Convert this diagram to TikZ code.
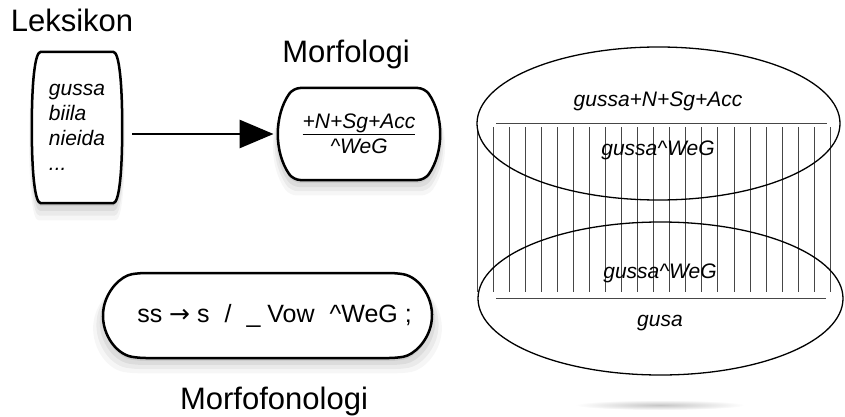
\documentclass[tikz,border=0pt]{standalone}
\usepackage{fontspec}
\setmainfont{Liberation Sans}
\newfontfamily\symfont{DejaVu Sans}
\usetikzlibrary{positioning, shapes.misc, shapes.geometric, arrows.meta, shadows}

\tikzset{
  softshadow/.style={
    drop shadow={opacity=0.16, shadow xshift=0pt, shadow yshift=-3pt, shadow scale=1.00},
    drop shadow={opacity=0.13, shadow xshift=0pt, shadow yshift=-6pt, shadow scale=1.02},
    drop shadow={opacity=0.10, shadow xshift=0pt, shadow yshift=-9pt, shadow scale=1.04},
    drop shadow={opacity=0.07, shadow xshift=0pt, shadow yshift=-12pt, shadow scale=1.06}},
  box/.style={draw, line width=2.5pt, fill=white, rounded rectangle, rounded corners=7pt, softshadow},
  barrel/.style={draw, line width=2.5pt, fill=white, softshadow},
  lbl/.style={font=\fontsize{31}{36}\selectfont, inner sep=0pt},
  entry/.style={font=\fontsize{21}{25}\selectfont\itshape, inner sep=0pt},
  oval/.style={draw, ellipse, line width=1.3pt, inner sep=0pt},
  hatch/.style={gray!55!black, line width=0.9pt},
  sep/.style={gray!55!black, line width=0.9pt},
  flow/.style={line width=2.8pt, -{Triangle[length=34pt, width=28pt]}}
}

\begin{document}
\begin{tikzpicture}[x=1pt, y=-1pt]
\useasboundingbox (0,0) rectangle (845,417);

% Leksikon
\node[lbl, anchor=base] (lexlbl) at (72,32) {Leksikon};
\node[rectangle, minimum width=90pt, minimum height=151pt] (lex) at (77,127.5) {};
\path[barrel] ([xshift=9pt]lex.north west) -- ([xshift=-9pt]lex.north east)
  .. controls +(6,0) and +(0,-45) .. (lex.east)
  .. controls +(0,45) and +(6,0) .. ([xshift=-9pt]lex.south east)
  -- ([xshift=9pt]lex.south west)
  .. controls +(-6,0) and +(0,45) .. (lex.west)
  .. controls +(0,-45) and +(-6,0) .. cycle;
\node[entry, align=left] (lexitems) at (lex.center) {gussa\\biila\\nieida\\...};

% Morfologi
\node[lbl, anchor=base] (morflbl) at (346,63) {Morfologi};
\node[box, rounded rectangle arc length=70, minimum width=156pt, minimum height=92pt,
      entry, align=center] (morf) at (359,134) {\underline{+N+Sg+Acc}\\\textasciicircum WeG};

\draw[flow, shorten <=10pt, shorten >=4pt] (lex.east |- morf.west) -- (morf.west);

% Morfofonologi
\node[box, rounded rectangle arc length=160, minimum width=329pt, minimum height=85pt,
      font=\fontsize{25}{28}\selectfont, inner sep=0pt] (rule) at (267.5,315.5)
      {\hspace{14pt}ss {\symfont →} s\hspace{15pt}/\hspace{15pt}\_\ Vow\hspace{15pt}\textasciicircum WeG\ ;};
\node[lbl, anchor=base] (rulelbl) at (274,409) {Morfofonologi};

% hatching
\foreach \i in {0,...,22}
  \draw[hatch] ({477+16.06*\i},127) -- ({477+16.06*\i},292);

% ovals
\node[oval, minimum width=363pt, minimum height=153pt] (upEll) at (658.5,123.5) {};
\node[oval, minimum width=365pt, minimum height=153pt] (lowEll) at (660.5,298.5) {};
\draw[sep] ([xshift=20pt]upEll.west) -- ([xshift=-14pt]upEll.east);
\draw[sep] ([xshift=19pt]lowEll.west) -- ([xshift=-18pt]lowEll.east);

\node[entry] (upTop) at (658,101) {gussa+N+Sg+Acc};
\node[entry] (upBot) at (658,150) {gussa\textasciicircum WeG};
\node[entry] (lowTop) at (660,273) {gussa\textasciicircum WeG};
\node[entry] (lowBot) at (660,323) {gusa};

\shade[inner color=gray!45, outer color=white] (660,405) ellipse [x radius=85, y radius=5];
\end{tikzpicture}
\end{document}
